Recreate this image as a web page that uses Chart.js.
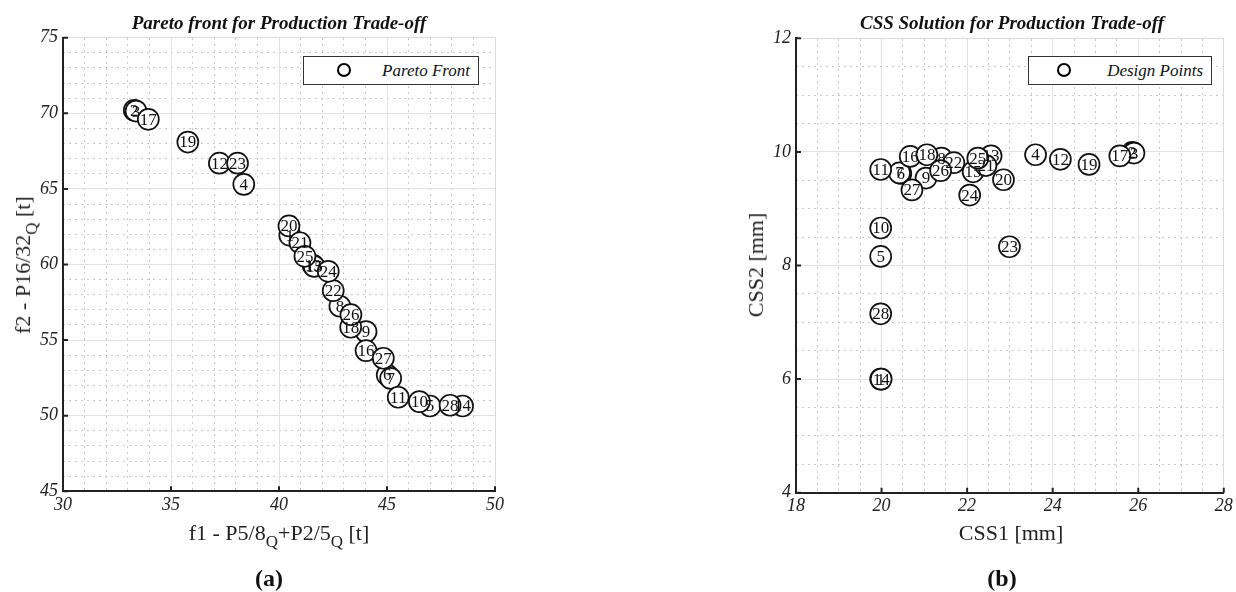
<!DOCTYPE html>
<html><head><meta charset="utf-8">
<script src="https://cdn.jsdelivr.net/npm/chart.js@4.4.1/dist/chart.umd.min.js"></script>
<style>
html,body{margin:0;padding:0;background:#fff;width:1236px;height:592px;overflow:hidden;position:relative;font-family:"Liberation Serif","Times New Roman",serif;}
.box{position:absolute;top:0;}
.t{position:absolute;white-space:nowrap;color:#111;line-height:1;}
.title{font-weight:bold;font-style:italic;font-size:19px;transform:translateX(-50%);top:13px;}
.axt{font-size:22px;transform:translateX(-50%);top:522px;color:#222}
.axt sub{font-size:17px;vertical-align:-7px;line-height:0}
.yt{font-size:22px;transform:translate(-50%,-50%) rotate(-90deg);color:#222}
.yt sub{font-size:17px;vertical-align:-7px;line-height:0}
.lg{position:absolute;border:1.5px solid #333;background:#fff;box-sizing:border-box}
.lg .m{position:absolute;width:14px;height:14px;border:2px solid #000;border-radius:50%;box-sizing:border-box}
.lg .s{position:absolute;font-style:italic;font-size:17px;line-height:1;white-space:nowrap;color:#111}
.cap{font-weight:bold;font-size:24px;transform:translateX(-50%);top:566px;}
</style></head>
<body>
<div class="box" style="left:0;width:600px;height:592px"><canvas id="cA" width="600" height="592"></canvas></div>
<div class="box" style="left:700px;width:536px;height:592px"><canvas id="cB" width="536" height="592"></canvas></div>

<div class="t title" style="left:279px">Pareto front for Production Trade-off</div>
<div class="t title" style="left:1012px">CSS Solution for Production Trade-off</div>

<div class="t axt" style="left:279px">f1 - P5/8<sub>Q</sub>+P2/5<sub>Q</sub> [t]</div>
<div class="t axt" style="left:1011px">CSS1 [mm]</div>
<div class="t yt" style="left:23px;top:265px">f2 - P16/32<sub>Q</sub> [t]</div>
<div class="t yt" style="left:756px;top:265px">CSS2 [mm]</div>

<div class="t cap" style="left:269px">(a)</div>
<div class="t cap" style="left:1002px">(b)</div>

<div class="lg" style="left:303px;top:56px;width:176px;height:29px">
  <div class="m" style="left:33px;top:6px"></div>
  <div class="s" style="right:8px;top:5px">Pareto Front</div>
</div>
<div class="lg" style="left:1028px;top:56px;width:184px;height:29px">
  <div class="m" style="left:28px;top:6px"></div>
  <div class="s" style="right:8px;top:5px">Design Points</div>
</div>

<script>
// ---- data ----
const pointIds = [1,2,3,4,5,6,7,8,9,10,11,12,13,14,15,16,17,18,19,20,21,22,23,24,25,26,27,28];

// (a) Pareto front: f1 [t], f2 [t]
const paretoF1 = [40.50,33.30,33.38,38.37,46.99,45.01,45.17,42.82,44.03,46.50,45.52,37.24,41.58,48.50,41.63,44.03,33.95,43.32,35.78,40.46,40.97,42.51,38.08,42.28,41.20,43.33,44.83,47.92];
const paretoF2 = [61.93,70.20,70.15,65.30,50.64,52.69,52.47,57.24,55.56,50.93,51.22,66.70,59.95,50.64,59.87,54.30,69.60,55.85,68.10,62.55,61.44,58.27,66.70,59.55,60.54,56.68,53.80,50.69];

// (b) CSS solution: CSS1 [mm], CSS2 [mm]
const css1 = [19.98,25.86,25.90,23.60,19.98,20.45,20.42,21.40,21.04,19.98,19.98,24.18,22.56,19.99,22.14,20.67,25.57,21.06,24.85,22.85,22.44,21.69,22.99,22.06,22.25,21.38,20.71,19.98];
const css2 = [6.00,9.99,9.98,9.95,8.16,9.62,9.63,9.89,9.54,8.66,9.69,9.87,9.93,6.00,9.65,9.92,9.93,9.95,9.78,9.51,9.76,9.81,8.33,9.24,9.89,9.67,9.33,7.15];

// axis ranges [min, max, major step, minor step]
const axisA_x = [30, 50, 5, 1];
const axisA_y = [45, 75, 5, 1];
const axisB_x = [18, 28, 2, 0.5];
const axisB_y = [4, 12, 2, 0.5];

// ---- plugins ----
const ptLabels = {
  id: 'ptLabels',
  afterDatasetsDraw(chart) {
    const ctx = chart.ctx;
    const meta = chart.getDatasetMeta(0);
    const labels = chart.data.datasets[0].ptLabels;
    ctx.save();
    ctx.font = '17px "Liberation Serif"';
    ctx.fillStyle = '#111';
    ctx.textAlign = 'center';
    ctx.textBaseline = 'middle';
    meta.data.forEach((p, i) => ctx.fillText(String(labels[i]), p.x, p.y + 1));
    ctx.restore();
  }
};
const inTicks = {
  id: 'inTicks',
  afterDraw(chart) {
    const {ctx, chartArea: a, scales: {x, y}} = chart;
    ctx.save();
    ctx.strokeStyle = '#222';
    ctx.lineWidth = 2;
    ctx.beginPath();
    x.ticks.forEach(t => { const px = x.getPixelForValue(t.value); ctx.moveTo(px, a.bottom); ctx.lineTo(px, a.bottom - 5); });
    y.ticks.forEach(t => { const py = y.getPixelForValue(t.value); ctx.moveTo(a.left, py); ctx.lineTo(a.left + 5, py); });
    ctx.stroke();
    ctx.restore();
  }
};

function build(id, xs, ys, ax, ay, geo) {
  const tickFont = {family: '"Liberation Serif"', size: 18, style: 'italic'};
  const minorGrid = {color: '#c9c9c9', lineWidth: 1, drawTicks: false};
  const minorBorder = {display: true, color: '#dadada', width: 1, dash: [2, 4]};
  new Chart(document.getElementById(id), {
    type: 'scatter',
    data: {
      datasets: [{
        data: xs.map((v, i) => ({x: v, y: ys[i]})),
        ptLabels: pointIds,
        pointStyle: 'circle',
        pointRadius: 10.5,
        pointHoverRadius: 10.5,
        borderWidth: 1.7,
        borderColor: '#111',
        backgroundColor: '#fff',
        clip: false
      }]
    },
    options: {
      responsive: false,
      animation: false,
      events: [],
      layout: {padding: {left: 0, top: geo.top, right: geo.right, bottom: 0}},
      plugins: {legend: {display: false}, tooltip: {enabled: false}, title: {display: false}},
      scales: {
        x2: {
          type: 'linear', position: 'top', min: ax[0], max: ax[1],
          ticks: {display: false, stepSize: ax[3]},
          grid: minorGrid, border: minorBorder,
          afterFit: s => { s.height = 0; }
        },
        y2: {
          type: 'linear', position: 'right', min: ay[0], max: ay[1],
          ticks: {display: false, stepSize: ay[3]},
          grid: minorGrid, border: minorBorder,
          afterFit: s => { s.width = 0; }
        },
        x: {
          type: 'linear', position: 'bottom', min: ax[0], max: ax[1],
          ticks: {stepSize: ax[2], font: tickFont, color: '#222', padding: 3, maxRotation: 0},
          grid: {color: '#e2e2e2', lineWidth: 1, drawTicks: false},
          border: {display: true, color: '#222', width: 2},
          afterFit: s => { s.height = geo.bottom; }
        },
        y: {
          type: 'linear', position: 'left', min: ay[0], max: ay[1],
          ticks: {stepSize: ay[2], font: tickFont, color: '#222', padding: 5},
          grid: {color: '#e2e2e2', lineWidth: 1, drawTicks: false},
          border: {display: true, color: '#222', width: 2},
          afterFit: s => { s.width = geo.left; }
        }
      }
    },
    plugins: [ptLabels, inTicks]
  });
}

build('cA', paretoF1, paretoF2, axisA_x, axisA_y, {left: 63, top: 37.7, right: 105, bottom: 100.7});
build('cB', css1, css2, axisB_x, axisB_y, {left: 96, top: 38.3, right: 8, bottom: 99.3});
</script>
</body></html>
